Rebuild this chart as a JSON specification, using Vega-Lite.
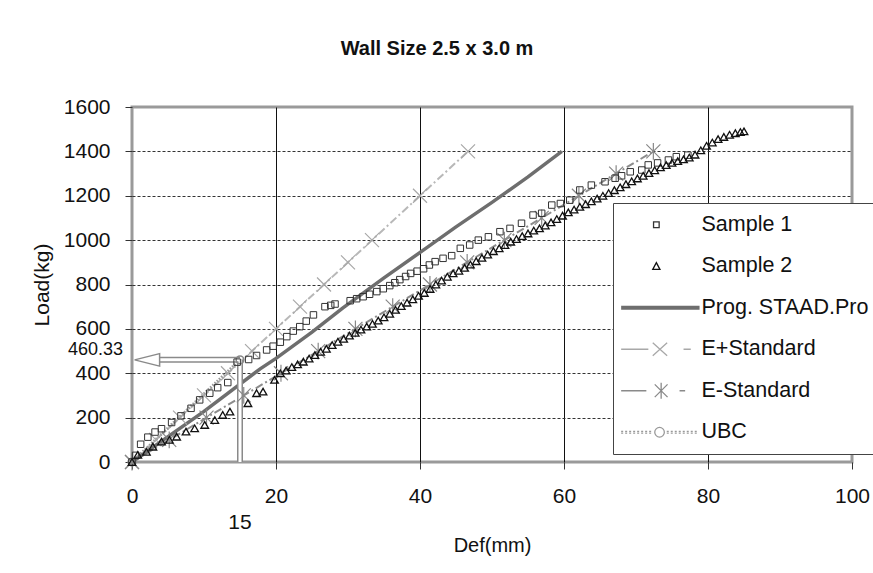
{
  "$schema": "https://vega.github.io/schema/vega-lite/v6.json",
  "width": 720,
  "height": 355,
  "autosize": {"type": "none"},
  "padding": {"left": 132, "top": 107, "right": 21, "bottom": 111},
  "background": "white",
  "title": {"text": "Wall Size 2.5 x 3.0 m", "fontSize": 20, "fontWeight": "bold", "font": "Liberation Sans", "color": "#111", "anchor": "middle", "dx": -55, "offset": 37},
  "datasets": {
    "pts": [
      {"series": "Sample 1", "def": 0, "load": 0}, {"series": "Sample 1", "def": 0.5, "load": 30}, {"series": "Sample 1", "def": 1.2, "load": 80}, {"series": "Sample 1", "def": 2.2, "load": 112}, {"series": "Sample 1", "def": 3.2, "load": 135}, {"series": "Sample 1", "def": 4.1, "load": 150}, {"series": "Sample 1", "def": 5.5, "load": 178}, {"series": "Sample 1", "def": 6.8, "load": 208}, {"series": "Sample 1", "def": 8.2, "load": 242}, {"series": "Sample 1", "def": 9.4, "load": 280}, {"series": "Sample 1", "def": 10.8, "load": 310}, {"series": "Sample 1", "def": 11.9, "load": 335}, {"series": "Sample 1", "def": 13.3, "load": 358}, {"series": "Sample 1", "def": 14.6, "load": 450}, {"series": "Sample 1", "def": 16.2, "load": 462}, {"series": "Sample 1", "def": 17.3, "load": 480}, {"series": "Sample 1", "def": 18.7, "load": 505}, {"series": "Sample 1", "def": 19.6, "load": 522}, {"series": "Sample 1", "def": 20.6, "load": 540}, {"series": "Sample 1", "def": 21.5, "load": 565}, {"series": "Sample 1", "def": 22.4, "load": 590}, {"series": "Sample 1", "def": 23.3, "load": 610}, {"series": "Sample 1", "def": 24.2, "load": 635}, {"series": "Sample 1", "def": 25.2, "load": 663}, {"series": "Sample 1", "def": 26.8, "load": 700}, {"series": "Sample 1", "def": 27.6, "load": 706}, {"series": "Sample 1", "def": 28.2, "load": 712}, {"series": "Sample 1", "def": 30.3, "load": 727}, {"series": "Sample 1", "def": 31.2, "load": 736}, {"series": "Sample 1", "def": 32.1, "load": 745}, {"series": "Sample 1", "def": 33, "load": 756}, {"series": "Sample 1", "def": 34, "load": 768}, {"series": "Sample 1", "def": 34.9, "load": 781}, {"series": "Sample 1", "def": 35.8, "load": 795}, {"series": "Sample 1", "def": 36.5, "load": 808}, {"series": "Sample 1", "def": 37.2, "load": 822}, {"series": "Sample 1", "def": 38, "load": 836}, {"series": "Sample 1", "def": 38.7, "load": 850}, {"series": "Sample 1", "def": 39.6, "load": 860}, {"series": "Sample 1", "def": 40.5, "load": 871}, {"series": "Sample 1", "def": 41.3, "load": 888}, {"series": "Sample 1", "def": 42.1, "load": 903}, {"series": "Sample 1", "def": 43.2, "load": 918}, {"series": "Sample 1", "def": 44.4, "load": 930}, {"series": "Sample 1", "def": 45.6, "load": 963}, {"series": "Sample 1", "def": 46.9, "load": 978}, {"series": "Sample 1", "def": 48.1, "load": 1000}, {"series": "Sample 1", "def": 49.5, "load": 1015}, {"series": "Sample 1", "def": 51.1, "load": 1038}, {"series": "Sample 1", "def": 52.5, "load": 1053}, {"series": "Sample 1", "def": 54.1, "load": 1076}, {"series": "Sample 1", "def": 55.7, "load": 1113}, {"series": "Sample 1", "def": 56.9, "load": 1121}, {"series": "Sample 1", "def": 58.3, "load": 1158}, {"series": "Sample 1", "def": 59.5, "load": 1165}, {"series": "Sample 1", "def": 60.8, "load": 1180}, {"series": "Sample 1", "def": 62.2, "load": 1226}, {"series": "Sample 1", "def": 63.8, "load": 1248}, {"series": "Sample 1", "def": 65.7, "load": 1263}, {"series": "Sample 1", "def": 67.1, "load": 1279}, {"series": "Sample 1", "def": 68, "load": 1290}, {"series": "Sample 1", "def": 69.2, "load": 1308}, {"series": "Sample 1", "def": 70.8, "load": 1316}, {"series": "Sample 1", "def": 71.7, "load": 1339}, {"series": "Sample 1", "def": 73, "load": 1348}, {"series": "Sample 1", "def": 74.5, "load": 1361}, {"series": "Sample 1", "def": 75.6, "load": 1376}, {"series": "Sample 1", "def": 77.2, "load": 1383},
      {"series": "Sample 2", "def": 0, "load": 0}, {"series": "Sample 2", "def": 0.8, "load": 32}, {"series": "Sample 2", "def": 2, "load": 46}, {"series": "Sample 2", "def": 2.9, "load": 69}, {"series": "Sample 2", "def": 4.1, "load": 92}, {"series": "Sample 2", "def": 5.2, "load": 100}, {"series": "Sample 2", "def": 6.2, "load": 114}, {"series": "Sample 2", "def": 7.5, "load": 137}, {"series": "Sample 2", "def": 8.7, "load": 152}, {"series": "Sample 2", "def": 10.1, "load": 167}, {"series": "Sample 2", "def": 11.5, "load": 189}, {"series": "Sample 2", "def": 12.6, "load": 212}, {"series": "Sample 2", "def": 13.6, "load": 227}, {"series": "Sample 2", "def": 16.1, "load": 265}, {"series": "Sample 2", "def": 17.3, "load": 310}, {"series": "Sample 2", "def": 18.2, "load": 317}, {"series": "Sample 2", "def": 19.8, "load": 370}, {"series": "Sample 2", "def": 20.6, "load": 400}, {"series": "Sample 2", "def": 21.4, "load": 412}, {"series": "Sample 2", "def": 22.2, "load": 428}, {"series": "Sample 2", "def": 23, "load": 440}, {"series": "Sample 2", "def": 23.8, "load": 452}, {"series": "Sample 2", "def": 24.6, "load": 466}, {"series": "Sample 2", "def": 25.4, "load": 482}, {"series": "Sample 2", "def": 26.2, "load": 497}, {"series": "Sample 2", "def": 27, "load": 510}, {"series": "Sample 2", "def": 27.8, "load": 527}, {"series": "Sample 2", "def": 28.6, "load": 542}, {"series": "Sample 2", "def": 29.4, "load": 555}, {"series": "Sample 2", "def": 30.2, "load": 570}, {"series": "Sample 2", "def": 31, "load": 582}, {"series": "Sample 2", "def": 31.8, "load": 597}, {"series": "Sample 2", "def": 32.6, "load": 610}, {"series": "Sample 2", "def": 33.4, "load": 623}, {"series": "Sample 2", "def": 34.2, "load": 637}, {"series": "Sample 2", "def": 35, "load": 652}, {"series": "Sample 2", "def": 35.8, "load": 668}, {"series": "Sample 2", "def": 36.6, "load": 686}, {"series": "Sample 2", "def": 37.4, "load": 703}, {"series": "Sample 2", "def": 38.2, "load": 718}, {"series": "Sample 2", "def": 39, "load": 733}, {"series": "Sample 2", "def": 39.8, "load": 749}, {"series": "Sample 2", "def": 40.6, "load": 762}, {"series": "Sample 2", "def": 41.4, "load": 780}, {"series": "Sample 2", "def": 42.2, "load": 800}, {"series": "Sample 2", "def": 43, "load": 818}, {"series": "Sample 2", "def": 43.8, "load": 835}, {"series": "Sample 2", "def": 44.6, "load": 850}, {"series": "Sample 2", "def": 45.4, "load": 862}, {"series": "Sample 2", "def": 46.2, "load": 875}, {"series": "Sample 2", "def": 47, "load": 890}, {"series": "Sample 2", "def": 47.8, "load": 905}, {"series": "Sample 2", "def": 48.6, "load": 920}, {"series": "Sample 2", "def": 49.4, "load": 935}, {"series": "Sample 2", "def": 50.2, "load": 950}, {"series": "Sample 2", "def": 51, "load": 963}, {"series": "Sample 2", "def": 51.8, "load": 978}, {"series": "Sample 2", "def": 52.6, "load": 993}, {"series": "Sample 2", "def": 53.4, "load": 1005}, {"series": "Sample 2", "def": 54.2, "load": 1018}, {"series": "Sample 2", "def": 55, "load": 1030}, {"series": "Sample 2", "def": 55.8, "load": 1043}, {"series": "Sample 2", "def": 56.6, "load": 1053}, {"series": "Sample 2", "def": 57.4, "load": 1066}, {"series": "Sample 2", "def": 58.2, "load": 1080}, {"series": "Sample 2", "def": 59, "load": 1095}, {"series": "Sample 2", "def": 59.8, "load": 1110}, {"series": "Sample 2", "def": 60.6, "load": 1125}, {"series": "Sample 2", "def": 61.4, "load": 1138}, {"series": "Sample 2", "def": 62.2, "load": 1150}, {"series": "Sample 2", "def": 63, "load": 1162}, {"series": "Sample 2", "def": 63.8, "load": 1175}, {"series": "Sample 2", "def": 64.6, "load": 1187}, {"series": "Sample 2", "def": 65.4, "load": 1200}, {"series": "Sample 2", "def": 66.2, "load": 1212}, {"series": "Sample 2", "def": 67, "load": 1225}, {"series": "Sample 2", "def": 67.8, "load": 1238}, {"series": "Sample 2", "def": 68.6, "load": 1252}, {"series": "Sample 2", "def": 69.4, "load": 1265}, {"series": "Sample 2", "def": 70.2, "load": 1278}, {"series": "Sample 2", "def": 71, "load": 1290}, {"series": "Sample 2", "def": 71.8, "load": 1302}, {"series": "Sample 2", "def": 72.6, "load": 1315}, {"series": "Sample 2", "def": 73.4, "load": 1328}, {"series": "Sample 2", "def": 74.2, "load": 1338}, {"series": "Sample 2", "def": 75, "load": 1348}, {"series": "Sample 2", "def": 75.8, "load": 1356}, {"series": "Sample 2", "def": 76.6, "load": 1364}, {"series": "Sample 2", "def": 77.4, "load": 1372}, {"series": "Sample 2", "def": 78.2, "load": 1385}, {"series": "Sample 2", "def": 79, "load": 1405}, {"series": "Sample 2", "def": 79.8, "load": 1425}, {"series": "Sample 2", "def": 80.6, "load": 1440}, {"series": "Sample 2", "def": 81.4, "load": 1455}, {"series": "Sample 2", "def": 82.2, "load": 1465}, {"series": "Sample 2", "def": 83, "load": 1475}, {"series": "Sample 2", "def": 83.8, "load": 1482}, {"series": "Sample 2", "def": 84.5, "load": 1487}, {"series": "Sample 2", "def": 85, "load": 1490},
      {"series": "Prog. STAAD.Pro", "def": 0, "load": 0}, {"series": "Prog. STAAD.Pro", "def": 10, "load": 228}, {"series": "Prog. STAAD.Pro", "def": 17.8, "load": 420}, {"series": "Prog. STAAD.Pro", "def": 20, "load": 467}, {"series": "Prog. STAAD.Pro", "def": 25, "load": 585}, {"series": "Prog. STAAD.Pro", "def": 29.3, "load": 695}, {"series": "Prog. STAAD.Pro", "def": 35, "load": 830}, {"series": "Prog. STAAD.Pro", "def": 40.9, "load": 965}, {"series": "Prog. STAAD.Pro", "def": 45, "load": 1060}, {"series": "Prog. STAAD.Pro", "def": 50, "load": 1170}, {"series": "Prog. STAAD.Pro", "def": 55, "load": 1285}, {"series": "Prog. STAAD.Pro", "def": 59.7, "load": 1400},
      {"series": "E+Standard", "def": 0, "load": 0}, {"series": "E+Standard", "def": 3.33, "load": 100}, {"series": "E+Standard", "def": 6.67, "load": 200}, {"series": "E+Standard", "def": 10, "load": 300}, {"series": "E+Standard", "def": 13.33, "load": 400}, {"series": "E+Standard", "def": 16.67, "load": 500}, {"series": "E+Standard", "def": 20, "load": 600}, {"series": "E+Standard", "def": 23.33, "load": 700}, {"series": "E+Standard", "def": 26.67, "load": 800}, {"series": "E+Standard", "def": 30, "load": 900}, {"series": "E+Standard", "def": 33.33, "load": 1000}, {"series": "E+Standard", "def": 40, "load": 1200}, {"series": "E+Standard", "def": 46.67, "load": 1400},
      {"series": "E-Standard", "def": 0, "load": 0}, {"series": "E-Standard", "def": 5.17, "load": 100}, {"series": "E-Standard", "def": 10.35, "load": 200}, {"series": "E-Standard", "def": 15.52, "load": 300}, {"series": "E-Standard", "def": 20.69, "load": 400}, {"series": "E-Standard", "def": 25.86, "load": 500}, {"series": "E-Standard", "def": 31.03, "load": 600}, {"series": "E-Standard", "def": 36.21, "load": 700}, {"series": "E-Standard", "def": 41.38, "load": 800}, {"series": "E-Standard", "def": 46.55, "load": 900}, {"series": "E-Standard", "def": 51.72, "load": 1000}, {"series": "E-Standard", "def": 56.9, "load": 1100}, {"series": "E-Standard", "def": 62.07, "load": 1200}, {"series": "E-Standard", "def": 67.24, "load": 1300}, {"series": "E-Standard", "def": 72.41, "load": 1400},
      {"series": "UBC", "def": 0, "load": 0}, {"series": "UBC", "def": 15, "load": 460.33}
    ],
    "arrows": [
      {"part": "h", "def": 3.6, "def2": 15, "load": 460.33},
      {"part": "v", "def": 15, "load": 0, "load2": 460.33},
      {"part": "head", "def": 2.1, "load": 460.33}
    ],
    "notes": [
      {"kind": "ylab", "def": 0, "load": 460.33, "label": "460.33"},
      {"kind": "xlab", "def": 15, "load": 0, "label": "15"}
    ],
    "legendRows": [
      {"series": "Sample 1"}, {"series": "Sample 2"}, {"series": "Prog. STAAD.Pro"}, {"series": "E+Standard"}, {"series": "E-Standard"}, {"series": "UBC"}
    ]
  },
  "encoding": {
    "x": {"field": "def", "type": "quantitative", "scale": {"domain": [0, 100], "nice": false},
      "axis": {"values": [0, 20, 40, 60, 80, 100], "title": "Def(mm)", "labelFlush": false, "domain": false, "grid": true,
        "gridColor": {"condition": {"test": "datum.value === 0 || datum.value === 100", "value": "transparent"}, "value": "#111"},
        "gridWidth": 1, "tickSize": 7, "tickColor": "#333", "labelPadding": 16, "labelFontSize": 21, "labelFont": "Liberation Sans", "labelColor": "#111",
        "titleFontSize": 20, "titleFont": "Liberation Sans", "titleFontWeight": "normal", "titleColor": "#111", "titlePadding": 29}},
    "y": {"field": "load", "type": "quantitative", "scale": {"domain": [0, 1600], "nice": false},
      "axis": {"values": [0, 200, 400, 600, 800, 1000, 1200, 1400, 1600], "format": "d", "title": "Load(kg)", "domain": false, "grid": true,
        "gridColor": {"condition": {"test": "datum.value === 0 || datum.value === 1600", "value": "transparent"}, "value": "#333"},
        "gridDash": [3, 2], "gridWidth": 1, "tickSize": 7, "tickColor": "#333", "labelPadding": 15, "labelFontSize": 21, "labelFont": "Liberation Sans", "labelColor": "#111",
        "titleFontSize": 21, "titleFont": "Liberation Sans", "titleFontWeight": "normal", "titleColor": "#111", "titlePadding": 11}}
  },
  "layer": [
    {"data": {"name": "pts"}, "transform": [{"filter": "datum.series === 'E+Standard'"}],
      "mark": {"type": "line", "color": "#b8b8b8", "strokeWidth": 2, "strokeDash": [8, 3, 2, 3]}},
    {"data": {"name": "pts"}, "transform": [{"filter": "datum.series === 'E-Standard'"}],
      "mark": {"type": "line", "color": "#8c8c8c", "strokeWidth": 2, "strokeDash": [8, 3, 2, 3]}},
    {"data": {"name": "pts"}, "transform": [{"filter": "datum.series === 'UBC'"}],
      "mark": {"type": "line", "color": "#999999", "strokeWidth": 3, "strokeDash": [1.5, 1.5]}},
    {"data": {"name": "pts"}, "transform": [{"filter": "datum.series === 'Prog. STAAD.Pro'"}],
      "mark": {"type": "line", "color": "#6e6e6e", "strokeWidth": 3.5}},
    {"data": {"name": "arrows"}, "transform": [{"filter": "datum.part === 'h'"}],
      "mark": {"type": "rule", "color": "#8a8a8a", "strokeWidth": 6},
      "encoding": {"x2": {"field": "def2"}}},
    {"data": {"name": "arrows"}, "transform": [{"filter": "datum.part === 'v'"}],
      "mark": {"type": "rule", "color": "#8a8a8a", "strokeWidth": 6},
      "encoding": {"y2": {"field": "load2"}}},
    {"data": {"name": "arrows"}, "transform": [{"filter": "datum.part === 'h'"}],
      "mark": {"type": "rule", "color": "white", "strokeWidth": 3},
      "encoding": {"x2": {"field": "def2"}}},
    {"data": {"name": "arrows"}, "transform": [{"filter": "datum.part === 'v'"}],
      "mark": {"type": "rule", "color": "white", "strokeWidth": 3},
      "encoding": {"y2": {"field": "load2"}}},
    {"data": {"name": "arrows"}, "transform": [{"filter": "datum.part === 'head'"}],
      "mark": {"type": "point", "shape": "M-1,0L1,-0.5L1,0.5Z", "size": 625, "filled": true, "fill": "white", "stroke": "#8a8a8a", "strokeWidth": 1.5, "opacity": 1}},
    {"data": {"name": "pts"}, "transform": [{"filter": "datum.series === 'E+Standard'"}],
      "mark": {"type": "point", "shape": "M-1,-1L1,1M-1,1L1,-1", "size": 196, "filled": false, "stroke": "#a8a8a8", "strokeWidth": 1.2, "opacity": 1}},
    {"data": {"name": "pts"}, "transform": [{"filter": "datum.series === 'E-Standard'"}],
      "mark": {"type": "point", "shape": "M-1,-1L1,1M-1,1L1,-1M0,-1.2L0,1.2", "size": 196, "filled": false, "stroke": "#888888", "strokeWidth": 1.2, "opacity": 1}},
    {"data": {"name": "pts"}, "transform": [{"filter": "datum.series === 'UBC'"}],
      "mark": {"type": "point", "shape": "circle", "size": 60, "filled": false, "stroke": "#888888", "strokeWidth": 1.5, "opacity": 1}},
    {"data": {"name": "pts"}, "transform": [{"filter": "datum.series === 'Sample 1'"}],
      "mark": {"type": "point", "shape": "square", "size": 42, "filled": false, "stroke": "#333333", "strokeWidth": 1, "opacity": 1}},
    {"data": {"name": "pts"}, "transform": [{"filter": "datum.series === 'Sample 2'"}],
      "mark": {"type": "point", "shape": "triangle-up", "size": 58, "filled": false, "stroke": "#111111", "strokeWidth": 1.3, "opacity": 1}},
    {"data": {"name": "notes"}, "transform": [{"filter": "datum.kind === 'ylab'"}],
      "mark": {"type": "text", "align": "right", "baseline": "middle", "dx": -9, "dy": -10, "fontSize": 18, "font": "Liberation Sans", "color": "#111"},
      "encoding": {"text": {"field": "label"}}},
    {"data": {"name": "notes"}, "transform": [{"filter": "datum.kind === 'xlab'"}],
      "mark": {"type": "text", "align": "center", "baseline": "middle", "dy": 61, "fontSize": 21, "font": "Liberation Sans", "color": "#111"},
      "encoding": {"text": {"field": "label"}}},
    {"data": {"name": "legendRows"},
      "mark": {"type": "point", "filled": false, "opacity": 1},
      "encoding": {
        "shape": {"field": "series", "type": "nominal",
          "scale": {"domain": ["Sample 1", "Sample 2", "Prog. STAAD.Pro", "E+Standard", "E-Standard", "UBC"],
            "range": [
              "M2.35,-0.35L3.05,-0.35L3.05,0.35L2.35,0.35Z",
              "M2.7,-0.45L3.15,0.4L2.25,0.4Z",
              "M-1.7,-0.17L8.1,-0.17M-1.7,0L8.1,0M-1.7,0.17L8.1,0.17",
              "M-1.7,0L1.7,0M2.25,-0.8L4.05,0.8M2.25,0.8L4.05,-0.8M6.1,0L7.0,0",
              "M-1.7,0L1.45,0M2.5,-0.8L4.1,0.8M2.5,0.8L4.1,-0.8M3.3,-1L3.3,1M5.6,0L6.3,0",
              "M-1.7,-0.1L-1.45,-0.1M-1.2,-0.1L-0.95,-0.1M-0.7,-0.1L-0.45,-0.1M-0.2,-0.1L0.05,-0.1M0.3,-0.1L0.55,-0.1M0.8,-0.1L1.05,-0.1M1.3,-0.1L1.55,-0.1M1.8,-0.1L2.05,-0.1M-1.7,0.1L-1.45,0.1M-1.2,0.1L-0.95,0.1M-0.7,0.1L-0.45,0.1M-0.2,0.1L0.05,0.1M0.3,0.1L0.55,0.1M0.8,0.1L1.05,0.1M1.3,0.1L1.55,0.1M1.8,0.1L2.05,0.1M3.7,0A0.6,0.6 0 1,1 2.5,0A0.6,0.6 0 1,1 3.7,0M4,-0.1L4.25,-0.1M4.5,-0.1L4.75,-0.1M5,-0.1L5.25,-0.1M5.5,-0.1L5.75,-0.1M6,-0.1L6.25,-0.1M6.5,-0.1L6.75,-0.1M7,-0.1L7.25,-0.1M7.5,-0.1L7.75,-0.1M4,0.1L4.25,0.1M4.5,0.1L4.75,0.1M5,0.1L5.25,0.1M5.5,0.1L5.75,0.1M6,0.1L6.25,0.1M6.5,0.1L6.75,0.1M7,0.1L7.25,0.1M7.5,0.1L7.75,0.1"
            ]},
          "legend": {"orient": "none", "legendX": 481, "legendY": 96, "title": null, "labelFontSize": 21.5, "labelFont": "Liberation Sans", "labelColor": "#111", "labelLimit": 400, "labelOffset": 56, "symbolSize": 256, "symbolStrokeWidth": 1.3, "rowPadding": 18.5, "padding": 11, "strokeColor": "#444", "fillColor": "white"}},
        "color": {"field": "series", "type": "nominal",
          "scale": {"domain": ["Sample 1", "Sample 2", "Prog. STAAD.Pro", "E+Standard", "E-Standard", "UBC"],
            "range": ["#333333", "#111111", "#6e6e6e", "#a8a8a8", "#8a8a8a", "#999999"]},
          "legend": {"orient": "none", "legendX": 481, "legendY": 96, "title": null, "labelFontSize": 21.5, "labelFont": "Liberation Sans", "labelColor": "#111", "labelLimit": 400, "labelOffset": 56, "symbolSize": 256, "symbolStrokeWidth": 1.3, "rowPadding": 18.5, "padding": 11, "strokeColor": "#444", "fillColor": "white"}}
      }}
  ],
  "config": {
    "view": {"stroke": "#9a9a9a", "strokeWidth": 3},
    "font": "Liberation Sans"
  }
}
